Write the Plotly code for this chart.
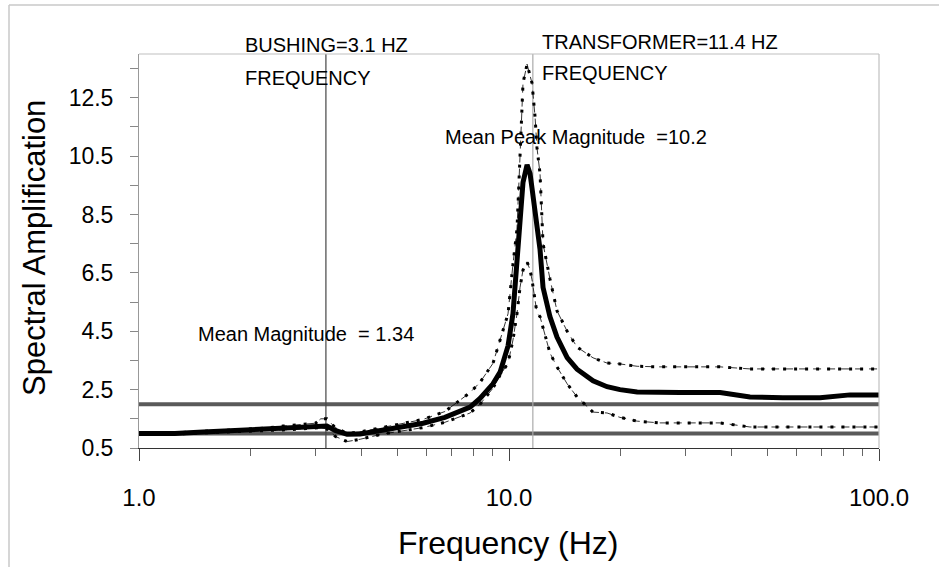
import plotly.graph_objects as go

# ---------------- data ----------------
freq = [1.0, 1.25, 1.49, 1.8, 2.19, 2.45, 2.72, 3.0, 3.1, 3.22, 3.39, 3.65, 3.96,
        4.56, 5.07, 5.86, 6.71, 7.85, 8.35, 9.05, 9.46, 9.94, 10.25, 10.51, 10.71,
        10.91, 11.19, 11.4, 11.54, 11.76, 11.9, 12.13, 12.36, 12.9, 13.48, 14.36,
        15.27, 16.87, 18.41, 19.95, 22.2, 25.6, 29.0, 37.2, 44.8, 55.0, 69.3, 83.5, 100.0]

mean_amp = [1.0, 1.0, 1.05, 1.1, 1.15, 1.2, 1.22, 1.25, 1.27, 1.25, 1.1, 0.97, 0.98,
            1.1, 1.2, 1.35, 1.55, 1.9, 2.2, 2.7, 3.1, 4.0, 5.1, 6.8, 8.3,
            9.6, 10.2, 9.9, 9.4, 8.6, 8.0, 7.3, 6.0, 5.0, 4.3, 3.6,
            3.2, 2.8, 2.6, 2.5, 2.42, 2.4, 2.4, 2.4, 2.25, 2.22, 2.22, 2.32, 2.32]

upper_amp = [1.0, 1.02, 1.07, 1.12, 1.18, 1.25, 1.3, 1.35, 1.5, 1.5, 1.2, 1.0, 1.05,
             1.2, 1.3, 1.48, 1.75, 2.4, 2.75, 3.4, 4.2, 5.1, 6.8, 8.0, 10.5,
             13.0, 13.65, 13.3, 13.0, 11.85, 10.8, 9.9, 7.5, 6.3, 5.2, 4.5,
             3.96, 3.59, 3.41, 3.38, 3.3, 3.28, 3.28, 3.28, 3.21, 3.21, 3.21, 3.21, 3.21]

lower_amp = [1.0, 0.98, 1.02, 1.05, 1.1, 1.12, 1.15, 1.18, 1.2, 1.15, 0.9, 0.72, 0.8,
             0.98, 1.08, 1.2, 1.38, 1.7, 2.0, 2.55, 3.0, 3.4, 4.2, 5.1, 6.0,
             6.6, 6.88, 6.6, 6.26, 5.6, 5.13, 5.0, 4.6, 3.76, 3.28, 2.7,
             2.25, 1.73, 1.70, 1.55, 1.42, 1.36, 1.36, 1.36, 1.22, 1.22, 1.22, 1.22, 1.22]

ref_levels = [1.0, 2.0]                 # horizontal reference lines
marker_freqs = [3.2, 11.6]              # bushing / transformer frequency lines
marker_colors = ["#444444", "#aaaaaa"]

y_tickvals = [0.5, 2.5, 4.5, 6.5, 8.5, 10.5, 12.5]
y_minor = [1.5, 3.5, 5.5, 7.5, 9.5, 11.5, 13.5]
x_tickvals = [1, 10, 100]
x_ticktext = ["1.0", "10.0", "100.0"]
x_minor = [2, 3, 4, 5, 6, 7, 8, 9, 20, 30, 40, 50, 60, 70, 80, 90]

Y_MIN, Y_MAX = 0.5, 14.0

FONT = "Liberation Sans, Arial, sans-serif"

fig = go.Figure()

# reference horizontal lines
for lv in ref_levels:
    fig.add_trace(go.Scatter(x=[freq[0], freq[-1]], y=[lv, lv], mode="lines",
                             line=dict(color="#5a5a5a", width=4), showlegend=False,
                             hoverinfo="skip"))

# vertical frequency marker lines
for f, c in zip(marker_freqs, marker_colors):
    fig.add_trace(go.Scatter(x=[f, f], y=[Y_MIN, Y_MAX], mode="lines",
                             line=dict(color=c, width=1.2), showlegend=False,
                             hoverinfo="skip"))

# envelopes: thin dashed + thick dotted overlay
for arr in (upper_amp, lower_amp):
    fig.add_trace(go.Scatter(x=freq, y=arr, mode="lines",
                             line=dict(color="black", width=0.8, dash="8px,6px"),
                             showlegend=False))
    fig.add_trace(go.Scatter(x=freq, y=arr, mode="lines",
                             line=dict(color="black", width=3, dash="3px,8px"),
                             showlegend=False))

# mean curve
fig.add_trace(go.Scatter(x=freq, y=mean_amp, mode="lines",
                         line=dict(color="black", width=5), showlegend=False))

L, R, T, B = 139, 60, 54, 119
W, H = 939, 567
pw, ph = W - L - R, H - T - B

def px(xp):
    return (xp - L) / pw

def py(yp):
    return (H - B - yp) / ph

shapes = [
    # outer frame (top and left)
    dict(type="line", xref="paper", yref="paper", x0=px(9), x1=px(939), y0=py(5), y1=py(5),
         line=dict(color="#c8c8c8", width=1.5)),
    dict(type="line", xref="paper", yref="paper", x0=px(9), x1=px(9), y0=py(5), y1=py(567),
         line=dict(color="#c8c8c8", width=1.5)),
    # plot border top and right
    dict(type="line", xref="paper", yref="paper", x0=0, x1=1, y0=1, y1=1,
         line=dict(color="#c0c0c0", width=1.2)),
    dict(type="line", xref="paper", yref="paper", x0=1, x1=1, y0=0, y1=1,
         line=dict(color="#c0c0c0", width=1.2)),
]

annotations = [
    dict(text="BUSHING=3.1 HZ", x=px(243), y=py(45), font=dict(family=FONT, size=20)),
    dict(text="FREQUENCY", x=px(243), y=py(78), font=dict(family=FONT, size=20)),
    dict(text="TRANSFORMER=11.4 HZ", x=px(540), y=py(42), font=dict(family=FONT, size=20)),
    dict(text="FREQUENCY", x=px(540), y=py(73), font=dict(family=FONT, size=20)),
    dict(text="Mean Peak Magnitude  =10.2", x=px(443), y=py(137), font=dict(family=FONT, size=20)),
    dict(text="Mean Magnitude  = 1.34", x=px(196), y=py(334), font=dict(family=FONT, size=20)),
]
for a in annotations:
    a.update(xref="paper", yref="paper", xanchor="left", yanchor="middle", showarrow=False)
    a["font"]["color"] = "black"

annotations.append(dict(text="Frequency (Hz)", x=px(508), y=py(543), xref="paper", yref="paper",
                        xanchor="center", yanchor="middle", showarrow=False,
                        font=dict(family=FONT, size=32, color="black")))
annotations.append(dict(text="Spectral Amplification", x=px(34), y=py(248), xref="paper",
                        yref="paper", xanchor="center", yanchor="middle", showarrow=False,
                        textangle=-90, font=dict(family=FONT, size=31, color="black")))

fig.update_layout(
    width=W, height=H,
    margin=dict(l=L, r=R, t=T, b=B),
    paper_bgcolor="white", plot_bgcolor="white",
    shapes=shapes, annotations=annotations,
    showlegend=False,
    xaxis=dict(type="log", range=[0, 2], tickvals=x_tickvals, ticktext=x_ticktext,
               ticks="outside", ticklen=12, tickcolor="#444", tickwidth=1,
               showline=True, linecolor="#333", linewidth=1, showgrid=False, zeroline=False,
               tickfont=dict(family=FONT, size=24, color="black"),
               ticklabelstandoff=16,
               minor=dict(tickvals=x_minor, ticks="outside", ticklen=7, tickcolor="#666",
                          showgrid=False)),
    yaxis=dict(range=[Y_MIN, Y_MAX], tickvals=y_tickvals,
               ticks="outside", ticklen=8, tickcolor="#888", tickwidth=1,
               showline=True, linecolor="#999", linewidth=1, showgrid=False, zeroline=False,
               tickfont=dict(family=FONT, size=23, color="black"),
               ticklabelstandoff=12,
               minor=dict(tickvals=y_minor, ticks="outside",
                          ticklen=8, tickcolor="#888", showgrid=False)),
)

fig.write_html("out.html")
